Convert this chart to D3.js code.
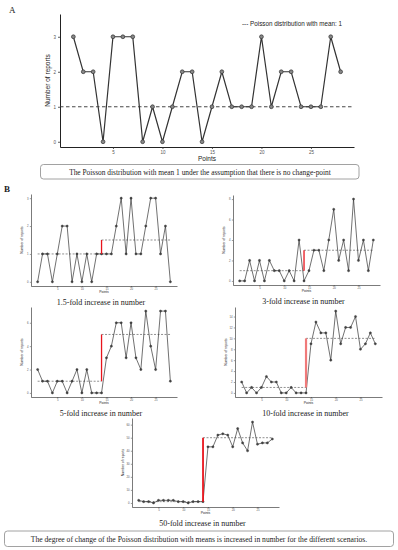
<!DOCTYPE html>
<html>
<head>
<meta charset="utf-8">
<script src="https://cdn.jsdelivr.net/npm/d3@7"></script>
<style>
  body { margin: 0; background: #fff; }
  svg { display: block; }
</style>
</head>
<body>
<div id="fig"></div>
<script>
// points on the x axis
var points = [1,2,3,4,5,6,7,8,9,10,11,12,13,14,15,16,17,18,19,20,21,22,23,24,25,26,27,28];
var xTicks = [5, 10, 15, 20, 25];
var changePoint = 14;

// panel A: no change-point
var reportsA = [3,2,2,0,3,3,3,0,1,0,1,2,2,0,1,2,1,1,1,3,1,2,2,1,1,1,3,2];
var meanA = 1;
var yTicksA = [0, 1, 2, 3];

// panel B scenarios
var fold15 = [0,1,1,0,1,2,2,0,1,0,1,0,1,1,1,1,2,3,1,3,1,1,2,3,3,1,2,0];
var fold3  = [0,0,2,0,2,0,2,1,1,0,1,0,4,0,1,3,3,1,4,7,2,4,1,8,2,4,1,4];
var fold5  = [2,1,1,0,1,1,0,1,2,0,2,0,0,0,3,4,6,6,3,6,3,2,7,4,2,7,7,1];
var fold10 = [2,0,1,0,1,3,2,2,0,0,1,0,0,0,9,13,11,11,6,15,9,12,12,14,8,9,11,9];
var fold50 = [2,1,1,0,2,2,2,2,1,1,0,1,1,1,43,43,52,53,52,43,57,46,40,62,45,46,46,49];

var meanBefore = 1;
var meansAfter = [1.5, 3, 5, 10, 50];
var titlesB = ["1.5-fold increase in number", "3-fold increase in number", "5-fold increase in number",
               "10-fold increase in number", "50-fold increase in number"];
var yTicksB = [[0,1,2,3], [0,2,4,6,8], [0,2,4,6], [0,2,4,6,8,10,12,14], [0,10,20,30,40,50,60]];

var captionA = "The Poisson distribution with mean 1 under the assumption that there is no change-point";
var captionB = "The degree of change of the Poisson distribution with means is increased in number for the different scenarios.";
var legendA = "--- Poisson distribution with mean: 1";

var W = 398, H = 550;
var svg = d3.select("#fig").append("svg").attr("width", W).attr("height", H);

var serif = "'Liberation Serif', 'DejaVu Serif', serif";
var sans = "'Liberation Sans', Arial, sans-serif";

// builds one ggplot-like panel
function drawPanel(box, values, yTicks, yMax) {
  var g = svg.append("g");
  var x = d3.scaleLinear()
    .domain([1 - 1.35, 28 + 1.35])
    .range([box.left, box.left + box.width]);
  var lo = 0, hi = d3.max(values);
  var pad = (hi - lo) * 0.05;
  var y = d3.scaleLinear()
    .domain([lo - pad, yMax != null ? yMax : hi + pad])
    .range([box.top + box.height, box.top]);

  var xAxis = d3.axisBottom(x).tickValues(xTicks).tickFormat(d3.format("d"))
    .tickSize(box.tick).tickSizeOuter(0).tickPadding(box.tickPad);
  var yAxis = d3.axisLeft(y).tickValues(yTicks).tickFormat(d3.format("d"))
    .tickSize(box.tick).tickSizeOuter(0).tickPadding(box.tickPad);

  var gx = g.append("g")
    .attr("transform", "translate(0," + (box.top + box.height) + ")")
    .call(xAxis);
  var gy = g.append("g")
    .attr("transform", "translate(" + box.left + ",0)")
    .call(yAxis);

  [gx, gy].forEach(function(a) {
    a.select(".domain").attr("stroke", "#222").attr("stroke-width", box.axisW);
    a.selectAll(".tick line").attr("stroke", "#333").attr("stroke-width", box.axisW * 0.8);
    a.selectAll(".tick text")
      .attr("fill", "#555")
      .attr("font-family", sans)
      .style("font-size", box.tickFont + "px");
  });

  // axis titles
  g.append("text")
    .attr("x", box.left + box.width / 2)
    .attr("y", box.top + box.height + box.xTitleOff)
    .attr("text-anchor", "middle")
    .attr("font-family", sans)
    .style("font-size", box.titleFont + "px")
    .attr("fill", "#222")
    .text("Points");

  g.append("text")
    .attr("transform", "translate(" + (box.left - box.yTitleOff) + "," + (box.top + box.height / 2) + ") rotate(-90)")
    .attr("text-anchor", "middle")
    .attr("font-family", sans)
    .style("font-size", box.titleFont + "px")
    .attr("fill", "#222")
    .text("Number of reports");

  return {g: g, x: x, y: y};
}

function drawSeries(p, values, box) {
  var line = d3.line()
    .x(function(d, i) { return p.x(points[i]); })
    .y(function(d) { return p.y(d); });

  p.g.append("path")
    .datum(values)
    .attr("d", line)
    .attr("fill", "none")
    .attr("stroke", "#333")
    .attr("stroke-width", box.lineW);

  p.g.selectAll("circle.pt")
    .data(values)
    .enter()
    .append("circle")
    .attr("class", "pt")
    .attr("cx", function(d, i) { return p.x(points[i]); })
    .attr("cy", function(d) { return p.y(d); })
    .attr("r", box.r)
    .attr("fill", box.ptFill)
    .attr("stroke", "#333")
    .attr("stroke-width", box.lineW * 0.6);
}

// ---------- panel A ----------
var boxA = {left: 60, top: 14, width: 294, height: 133, tick: 2, tickPad: 2, axisW: 1,
            tickFont: 4.5, titleFont: 6.5, xTitleOff: 13.5, yTitleOff: 10,
            lineW: 1.2, r: 1.9, ptFill: "#888"};
var pA = drawPanel(boxA, reportsA, yTicksA, 3.65);

pA.g.append("line")
  .attr("x1", boxA.left).attr("x2", boxA.left + boxA.width)
  .attr("y1", pA.y(meanA)).attr("y2", pA.y(meanA))
  .attr("stroke", "#333").attr("stroke-width", 0.9)
  .attr("stroke-dasharray", "3.5,2.5");

drawSeries(pA, reportsA, boxA);

pA.g.append("text")
  .attr("x", 242).attr("y", 25.5)
  .attr("font-family", sans)
  .style("font-size", "6.3px")
  .attr("fill", "#222")
  .text(legendA);

svg.append("text")
  .attr("x", 9).attr("y", 13)
  .attr("font-family", serif)
  .style("font-size", "9px")
  .attr("fill", "#222")
  .text("A");

// caption box A
svg.append("rect")
  .attr("x", 40.5).attr("y", 164.5).attr("width", 318.5).attr("height", 14.5)
  .attr("rx", 3)
  .attr("fill", "#fff").attr("stroke", "#8a8a8a").attr("stroke-width", 0.8);
svg.append("text")
  .attr("x", 200).attr("y", 174.5)
  .attr("text-anchor", "middle")
  .attr("font-family", serif)
  .style("font-size", "7.4px")
  .attr("fill", "#222")
  .text(captionA);

svg.append("text")
  .attr("x", 4).attr("y", 192)
  .attr("font-family", serif)
  .attr("font-weight", "bold")
  .style("font-size", "9px")
  .attr("fill", "#222")
  .text("B");

// ---------- panel B ----------
var seriesB = [fold15, fold3, fold5, fold10, fold50];
var boxesB = [
  {left: 31, top: 194, width: 146, height: 92},
  {left: 233, top: 195, width: 147, height: 90},
  {left: 31, top: 307, width: 146, height: 90},
  {left: 235, top: 307, width: 147, height: 90},
  {left: 132, top: 418, width: 147, height: 89}
];
var redW = [1.3, 1.3, 1.3, 2.2, 1.8];
var redColor = ["#e8141c", "#e8141c", "#e8141c", "#f07a7a", "#e8141c"];

boxesB.forEach(function(b, k) {
  var box = Object.assign({tick: 1.2, tickPad: 1.2, axisW: 0.6, tickFont: 2.8, titleFont: 3.4,
                           xTitleOff: 7, yTitleOff: 8, lineW: 0.7, r: 1.1, ptFill: "#444"}, b);
  var vals = seriesB[k];
  var p = drawPanel(box, vals, yTicksB[k], null);

  // mean before and after change-point
  p.g.append("line")
    .attr("x1", p.x(points[0])).attr("x2", p.x(changePoint))
    .attr("y1", p.y(meanBefore)).attr("y2", p.y(meanBefore))
    .attr("stroke", "#444").attr("stroke-width", 0.6)
    .attr("stroke-dasharray", "2,1.5");
  p.g.append("line")
    .attr("x1", p.x(changePoint)).attr("x2", p.x(points[points.length - 1]))
    .attr("y1", p.y(meansAfter[k])).attr("y2", p.y(meansAfter[k]))
    .attr("stroke", "#444").attr("stroke-width", 0.6)
    .attr("stroke-dasharray", "2,1.5");

  drawSeries(p, vals, box);

  p.g.append("line")
    .attr("x1", p.x(changePoint)).attr("x2", p.x(changePoint))
    .attr("y1", p.y(meanBefore)).attr("y2", p.y(meansAfter[k]))
    .attr("stroke", redColor[k]).attr("stroke-width", redW[k]);

  svg.append("text")
    .attr("x", box.left + box.width / 2 - 3)
    .attr("y", box.top + box.height + 18.5)
    .attr("text-anchor", "middle")
    .attr("font-family", serif)
    .style("font-size", "8px")
    .attr("fill", "#222")
    .text(titlesB[k]);
});

// caption box B
svg.append("rect")
  .attr("x", 4.5).attr("y", 531).attr("width", 389).attr("height", 15.5)
  .attr("rx", 3)
  .attr("fill", "#fff").attr("stroke", "#8a8a8a").attr("stroke-width", 0.8);
svg.append("text")
  .attr("x", 199).attr("y", 541.5)
  .attr("text-anchor", "middle")
  .attr("font-family", serif)
  .style("font-size", "7.6px")
  .attr("fill", "#222")
  .text(captionB);
</script>
</body>
</html>
